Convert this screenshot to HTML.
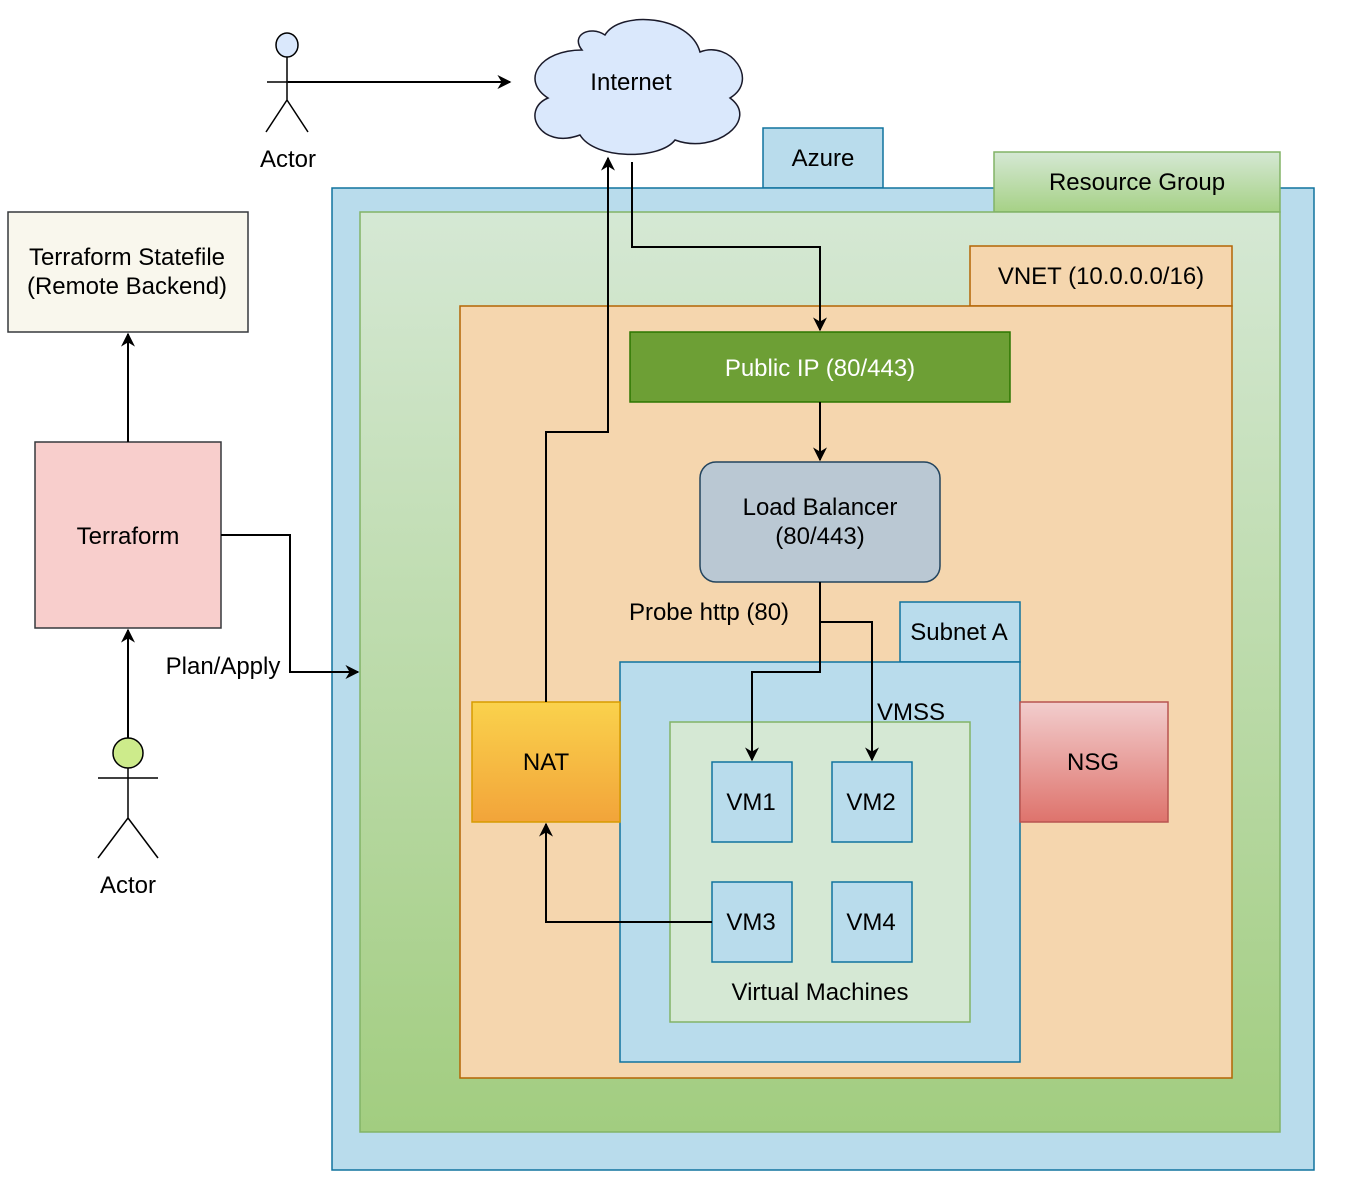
<!DOCTYPE html>
<html><head><meta charset="utf-8"><style>
html,body{margin:0;padding:0;background:#fff;}
svg{display:block;}
text{font-family:"Liberation Sans",Arial,sans-serif;font-size:24px;fill:#000;}
</style></head><body>
<svg width="1354" height="1190" viewBox="0 0 1354 1190" xmlns="http://www.w3.org/2000/svg">
<defs>
<linearGradient id="rg" x1="0" y1="0" x2="0" y2="1"><stop offset="0" stop-color="#d5e8d4"/><stop offset="1" stop-color="#a2cd80"/></linearGradient>
<linearGradient id="rgt" x1="0" y1="0" x2="0" y2="1"><stop offset="0" stop-color="#d5e8d4"/><stop offset="1" stop-color="#a6d186"/></linearGradient>
<linearGradient id="nat" x1="0" y1="0" x2="0" y2="1"><stop offset="0" stop-color="#fad24c"/><stop offset="1" stop-color="#f2a43a"/></linearGradient>
<linearGradient id="nsg" x1="0" y1="0" x2="0" y2="1"><stop offset="0" stop-color="#f2cdcd"/><stop offset="1" stop-color="#de736c"/></linearGradient>
<marker id="a" viewBox="0 0 10 10" refX="9" refY="5" markerWidth="14" markerHeight="14" orient="auto" markerUnits="userSpaceOnUse"><path d="M0,0 L10,5 L0,10 L3,5 z" fill="#000"/></marker>
</defs>
<rect x="763" y="128" width="120" height="60" fill="#b9dcec" stroke="#10739e" stroke-width="1.5"/>
<text x="823" y="166" text-anchor="middle">Azure</text>
<rect x="332" y="188" width="982" height="982" fill="#b9dcec" stroke="#10739e" stroke-width="1.5"/>
<rect x="994" y="152" width="286" height="60" fill="url(#rgt)" stroke="#82b366" stroke-width="1.5"/>
<text x="1137" y="190" text-anchor="middle">Resource Group</text>
<rect x="360" y="212" width="920" height="920" fill="url(#rg)" stroke="#82b366" stroke-width="1.5"/>
<rect x="970" y="246" width="262" height="60" fill="#f5d6ae" stroke="#b46504" stroke-width="1.5"/>
<text x="1101" y="284" text-anchor="middle">VNET (10.0.0.0/16)</text>
<rect x="460" y="306" width="772" height="772" fill="#f5d6ae" stroke="#b46504" stroke-width="1.5"/>
<rect x="630" y="332" width="380" height="70" fill="#6d9f35" stroke="#2d7600" stroke-width="1.5"/>
<text x="820" y="376" text-anchor="middle" style="fill:#fff">Public IP (80/443)</text>
<rect x="700" y="462" width="240" height="120" rx="16" fill="#bac8d3" stroke="#23445d" stroke-width="1.5"/>
<text x="820" y="515" text-anchor="middle">Load Balancer</text>
<text x="820" y="544" text-anchor="middle">(80/443)</text>
<rect x="900" y="602" width="120" height="60" fill="#b9dcec" stroke="#10739e" stroke-width="1.5"/>
<text x="959" y="640" text-anchor="middle">Subnet A</text>
<rect x="620" y="662" width="400" height="400" fill="#b9dcec" stroke="#10739e" stroke-width="1.5"/>
<rect x="670" y="722" width="300" height="300" fill="#d5e8d4" stroke="#82b366" stroke-width="1.5"/>
<text x="911" y="720" text-anchor="middle">VMSS</text>
<text x="820" y="1000" text-anchor="middle">Virtual Machines</text>
<rect x="712" y="762" width="80" height="80" fill="#b9dcec" stroke="#10739e" stroke-width="1.5"/>
<text x="751" y="810" text-anchor="middle">VM1</text>
<rect x="832" y="762" width="80" height="80" fill="#b9dcec" stroke="#10739e" stroke-width="1.5"/>
<text x="871" y="810" text-anchor="middle">VM2</text>
<rect x="712" y="882" width="80" height="80" fill="#b9dcec" stroke="#10739e" stroke-width="1.5"/>
<text x="751" y="930" text-anchor="middle">VM3</text>
<rect x="832" y="882" width="80" height="80" fill="#b9dcec" stroke="#10739e" stroke-width="1.5"/>
<text x="871" y="930" text-anchor="middle">VM4</text>
<rect x="472" y="702" width="148" height="120" fill="url(#nat)" stroke="#d79b00" stroke-width="1.5"/>
<text x="546" y="770" text-anchor="middle">NAT</text>
<rect x="1020" y="702" width="148" height="120" fill="url(#nsg)" stroke="#b85450" stroke-width="1.5"/>
<text x="1093" y="770" text-anchor="middle">NSG</text>
<rect x="35" y="442" width="186" height="186" fill="#f8cecc" stroke="#36393d" stroke-width="1.5"/>
<text x="128" y="544" text-anchor="middle">Terraform</text>
<rect x="8" y="212" width="240" height="120" fill="#f9f7ed" stroke="#36393d" stroke-width="1.5"/>
<text x="127" y="265" text-anchor="middle">Terraform Statefile</text>
<text x="127" y="294" text-anchor="middle">(Remote Backend)</text>
<path d="M582,50 C540,50 520,80 548,98 C520,110 540,150 580,135 C595,160 660,160 675,140 C715,155 760,120 730,98 C760,80 730,40 700,52 C690,15 620,10 605,35 C590,25 570,35 582,50 Z" fill="#dae8fc" stroke="#1a1a2a" stroke-width="1.5"/>
<text x="631" y="90" text-anchor="middle">Internet</text>
<ellipse cx="287" cy="45" rx="11" ry="12" fill="#dae8fc" stroke="#000" stroke-width="1.5"/>
<path d="M287,57 V100 M267,82 H307 M287,100 L266,132 M287,100 L308,132" stroke="#000" stroke-width="1.5" fill="none"/>
<text x="288" y="167" text-anchor="middle">Actor</text>
<ellipse cx="128" cy="753" rx="15" ry="15" fill="#cdeb8b" stroke="#000" stroke-width="1.5"/>
<path d="M128,768 V818 M98,778 H158 M128,818 L98,858 M128,818 L158,858" stroke="#000" stroke-width="1.5" fill="none"/>
<text x="128" y="893" text-anchor="middle">Actor</text>
<g stroke="#000" stroke-width="2" fill="none">
<path d="M288,82 H510" marker-end="url(#a)"/>
<path d="M632,162 V247 H820 V330" marker-end="url(#a)"/>
<path d="M820,402 V460" marker-end="url(#a)"/>
<path d="M820,582 V672 H752 V760" marker-end="url(#a)"/>
<path d="M820,622 H872 V760" marker-end="url(#a)"/>
<path d="M546,702 V432 H608 V158" marker-end="url(#a)"/>
<path d="M712,922 H546 V824" marker-end="url(#a)"/>
<path d="M128,442 V334" marker-end="url(#a)"/>
<path d="M128,738 V630" marker-end="url(#a)"/>
<path d="M221,535 H290 V672 H358" marker-end="url(#a)"/>
</g>
<text x="709" y="620" text-anchor="middle">Probe http (80)</text>
<text x="223" y="674" text-anchor="middle">Plan/Apply</text>
</svg>
</body></html>
